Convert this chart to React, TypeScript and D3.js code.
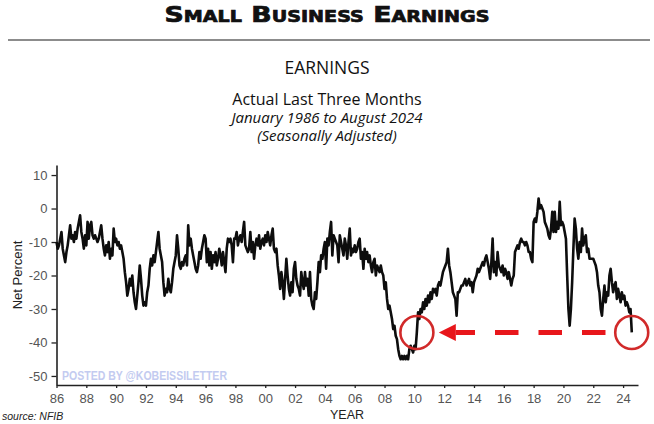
import React, { useEffect, useRef } from 'react';
import * as d3 from 'd3';

// NFIB actual earnings, last three months, net percent (monthly, seasonally adjusted)
const startYear = 1986;

const earnings1980s = [
  -10, -12, -11, -9, -7, -12, -14, -16, -13, -11, -8, -5,
  -9, -8, -10, -7, -9, -6, -4, -2, -7, -9, -12, -8,
  -11, -4, -9, -5, -4, -8, -9, -8, -9, -10, -9, -7,
  -5, -9, -12, -14, -11, -13, -10, -15, -12, -14, -6, -10,
];

const earnings1990s = [
  -9, -11, -10, -12, -11, -13, -15, -19, -22, -26, -24, -21,
  -23, -20, -25, -28, -30, -26, -22, -17, -21, -26, -29, -28,
  -29, -25, -23, -18, -15, -17, -14, -16, -13, -10, -7, -12,
  -14, -16, -22, -26, -24, -25, -21, -24, -25, -22, -18, -16,
  -14, -8, -12, -17, -18, -16, -17, -15, -14, -17, -5, -11,
  -9, -12, -14, -16, -18, -19, -17, -13, -15, -12, -10, -8,
  -9, -16, -12, -17, -13, -18, -14, -16, -13, -17, -15, -12,
  -14, -17, -13, -16, -19, -12, -9, -10, -9, -11, -16, -9,
  -9, -7, -11, -9, -8, -10, -7, -4, -11, -12, -13, -12,
  -7, -13, -10, -15, -11, -9, -11, -8, -12, -10, -9, -11,
];

const earnings2000s = [
  -8, -10, -7, -9, -11, -8, -6, -12, -13, -12, -17, -20,
  -24, -19, -22, -27, -21, -15, -20, -24, -26, -22, -25, -18,
  -16, -21, -23, -24, -26, -19, -22, -24, -19, -23, -21, -26,
  -19, -27, -29, -30, -25, -27, -22, -16, -19, -14, -15, -12,
  -10, -18, -9, -11, -7, -4, -14, -8, -9, -10, -11, -16,
  -8, -10, -12, -14, -9, -11, -15, -10, -6, -14, -12, -13,
  -11, -13, -12, -10, -9, -15, -13, -18, -12, -15, -13, -16,
  -14, -17, -19, -16, -15, -20, -17, -18, -19, -17, -19, -20,
  -24, -22, -27, -30, -29, -31, -33, -36, -35, -38, -39, -42,
  -44, -45, -44, -45, -44, -45, -44, -45, -42, -41, -42, -43,
];

const earnings2010s = [
  -41, -42, -37, -31, -33, -30, -31, -28, -30, -27, -29, -26,
  -28, -25, -27, -24, -25, -24, -26, -23, -22, -23, -21, -19,
  -18, -17, -16, -12, -17, -19, -22, -25, -26, -27, -32, -25,
  -25, -24, -23, -23, -22, -21, -23, -22, -21, -23, -22, -25,
  -22, -21, -20, -18, -19, -18, -17, -16, -17, -15, -14, -16,
  -18, -21, -16, -9, -19, -16, -20, -13, -17, -18, -19, -17,
  -20, -18, -19, -21, -19, -21, -23, -21, -20, -13, -12, -11,
  -12, -10, -9, -10, -10, -11, -10, -11, -13, -13, -15, -16,
  -4, -3, -4, -1, 3, 0, 1, 0, -1, -4, -5, -6,
  -8, -9, -6, -1, -7, -1, -7, -4, -6, 2, -5, -4,
];

const earnings2020s = [
  -5, -7, -9, -20, -30, -35, -30, -22, -12, -3, -6, -12,
  -15, -10, -13, -6, -11, -9, -8, -13, -12, -15, -15, -15,
  -15, -16, -17, -19, -23, -25, -30, -32, -27, -23, -28, -25,
  -26, -20, -18, -22, -25, -23, -22, -27, -24, -26, -28, -25,
  -27, -26, -29, -28, -29, -31, -30, -37,
];

const earnings = [
  ...earnings1980s,
  ...earnings1990s,
  ...earnings2000s,
  ...earnings2010s,
  ...earnings2020s,
];

const yTicks = [10, 0, -10, -20, -30, -40, -50];
const xTickYears = [
  1986, 1988, 1990, 1992, 1994, 1996, 1998, 2000, 2002, 2004,
  2006, 2008, 2010, 2012, 2014, 2016, 2018, 2020, 2022, 2024,
];

// annotation: compare Aug 2024 to early 2010
const circleMarks = [
  { year: 2010.17, value: -37 },
  { year: 2024.58, value: -37 },
];
const arrowFrom = { year: 2022.82, value: -37 };
const arrowTo = { year: 2011.64, value: -37 };

const W = 654;
const H = 424;

const App: React.FC = () => {
  const ref = useRef<SVGSVGElement | null>(null);

  useEffect(() => {
    document.body.style.margin = '0';
    const svg = d3.select(ref.current);
    svg.selectAll('*').remove();

    const x = d3.scaleLinear().domain([1986, 2025]).range([56.5, 638]);
    const y = d3.scaleLinear().domain([-52.7, 13]).range([385, 165]);

    // headings
    svg.append('text')
      .attr('x', 327).attr('y', 22)
      .attr('text-anchor', 'middle')
      .attr('font-family', 'DejaVu Sans')
      .attr('font-weight', 'bold')
      .attr('font-size', 21)
      .style('font-variant', 'small-caps')
      .attr('textLength', 325)
      .attr('lengthAdjust', 'spacingAndGlyphs')
      .attr('fill', '#111')
      .attr('stroke', '#111')
      .attr('stroke-width', 0.7)
      .text('Small Business Earnings');

    svg.append('line')
      .attr('x1', 8).attr('x2', 650)
      .attr('y1', 40).attr('y2', 40)
      .attr('stroke', '#666').attr('stroke-width', 1.5);

    const sub = [
      { t: 'EARNINGS', y: 74, size: 17.5, italic: false },
      { t: 'Actual Last Three Months', y: 105, size: 16, italic: false },
      { t: 'January 1986 to August 2024', y: 123, size: 15, italic: true },
      { t: '(Seasonally Adjusted)', y: 141, size: 15, italic: true },
    ];
    sub.forEach(s => {
      svg.append('text')
        .attr('x', 327).attr('y', s.y)
        .attr('text-anchor', 'middle')
        .attr('font-family', 'Open Sans')
        .attr('font-size', s.size)
        .attr('font-style', s.italic ? 'italic' : 'normal')
        .attr('fill', '#111')
        .text(s.t);
    });

    // axes
    const gx = svg.append('g')
      .attr('transform', 'translate(0,385)')
      .call(d3.axisBottom(x)
        .tickValues(xTickYears)
        .tickFormat(d => String(Number(d) % 100).padStart(2, '0'))
        .tickSize(3)
        .tickSizeOuter(0)
        .tickPadding(6));

    const gy = svg.append('g')
      .attr('transform', 'translate(56.5,0)')
      .call(d3.axisLeft(y)
        .tickValues(yTicks)
        .tickFormat(d => String(d))
        .tickSize(5)
        .tickSizeOuter(0)
        .tickPadding(4));

    [gx, gy].forEach(g => {
      g.attr('font-family', 'Liberation Sans, Arial, sans-serif').attr('font-size', 13);
      g.select('.domain').attr('stroke', '#222').attr('stroke-width', 1.6);
      g.selectAll('.tick line').attr('stroke', '#222').attr('stroke-width', 1.3);
      g.selectAll('.tick text').attr('fill', '#555');
    });

    // watermark
    svg.append('text')
      .attr('x', 62).attr('y', 380)
      .attr('font-family', 'Liberation Sans, Arial, sans-serif')
      .attr('font-weight', 'bold')
      .attr('font-size', 12)
      .attr('textLength', 165)
      .attr('lengthAdjust', 'spacingAndGlyphs')
      .attr('fill', '#c3cbf0')
      .text('POSTED BY @KOBEISSILETTER');

    // series
    const line = d3.line<number>()
      .x((d, i) => x(startYear + i / 12))
      .y(d => y(d));

    svg.append('path')
      .datum(earnings)
      .attr('fill', 'none')
      .attr('stroke', '#0d0d0d')
      .attr('stroke-width', 2.6)
      .attr('stroke-linejoin', 'round')
      .attr('d', line);

    // red annotations
    circleMarks.forEach(c => {
      svg.append('circle')
        .attr('cx', x(c.year)).attr('cy', y(c.value))
        .attr('r', 16.5)
        .attr('fill', 'none')
        .attr('stroke', '#d12a2a')
        .attr('stroke-width', 2.6);
    });

    const ax1 = x(arrowFrom.year);
    const ax2 = x(arrowTo.year);
    const ay = y(arrowFrom.value);
    const headLen = 17;
    svg.append('line')
      .attr('x1', ax1).attr('x2', ax2 + headLen)
      .attr('y1', ay).attr('y2', ay)
      .attr('stroke', '#e8161b')
      .attr('stroke-width', 5)
      .attr('stroke-dasharray', '23.5 20');
    svg.append('path')
      .attr('d', `M${ax2},${ay}L${ax2 + headLen},${ay - 8.5}L${ax2 + headLen},${ay + 8.5}Z`)
      .attr('fill', '#e8161b');

    // axis titles and source
    svg.append('text')
      .attr('transform', 'translate(22,275) rotate(-90)')
      .attr('text-anchor', 'middle')
      .attr('font-family', 'Liberation Sans, Arial, sans-serif')
      .attr('font-size', 13)
      .attr('fill', '#222')
      .text('Net Percent');

    svg.append('text')
      .attr('x', 347).attr('y', 419)
      .attr('text-anchor', 'middle')
      .attr('font-family', 'Liberation Sans, Arial, sans-serif')
      .attr('font-size', 12.5)
      .attr('fill', '#222')
      .text('YEAR');

    svg.append('text')
      .attr('x', 2).attr('y', 420)
      .attr('font-family', 'Liberation Sans, Arial, sans-serif')
      .attr('font-size', 10.5)
      .attr('font-style', 'italic')
      .attr('fill', '#222')
      .text('source: NFIB');
  }, []);

  return (
    <svg
      ref={ref}
      width={W}
      height={H}
      style={{ position: 'absolute', left: 0, top: 0, background: '#fff' }}
    />
  );
};

export default App;
